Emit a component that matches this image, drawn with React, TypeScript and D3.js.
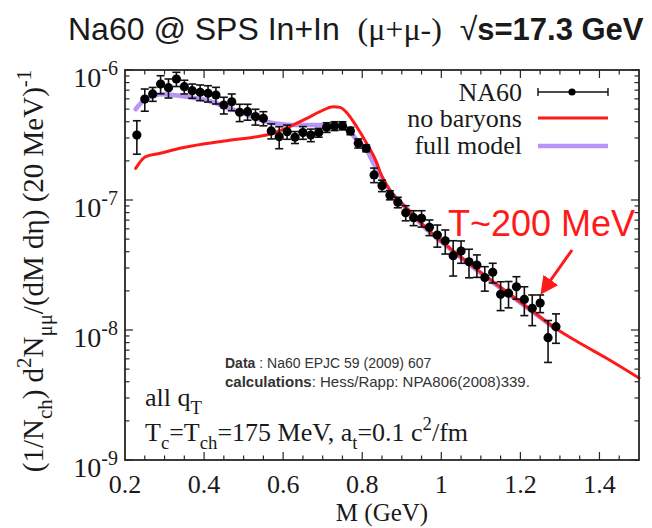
import React from 'react';
import * as d3 from 'd3';

// NA60 In+In excess dimuon spectrum: bin centres (GeV), yields and statistical errors
const na60Mass = [
  0.23, 0.25, 0.27, 0.29, 0.31, 0.33, 0.35, 0.37, 0.39, 0.41,
  0.43, 0.45, 0.47, 0.49, 0.51, 0.53, 0.55, 0.57, 0.59, 0.61,
  0.63, 0.65, 0.67, 0.69, 0.71, 0.73, 0.75, 0.77, 0.79, 0.81,
  0.83, 0.85, 0.87, 0.89, 0.91, 0.93, 0.95, 0.97, 0.99, 1.01,
  1.03, 1.05, 1.07, 1.09, 1.11, 1.13, 1.15, 1.17, 1.19, 1.21,
  1.23, 1.25, 1.27, 1.29,
];
const na60Yield = [
  3.16e-7, 5.98e-7, 6.54e-7, 7.8e-7, 7.31e-7, 8.53e-7, 7.44e-7, 6.93e-7, 6.74e-7, 6.62e-7,
  6.42e-7, 5.38e-7, 5.7e-7, 4.73e-7, 4.78e-7, 4.38e-7, 4.25e-7, 3.4e-7, 3.07e-7, 3.35e-7,
  3.04e-7, 3.3e-7, 3.16e-7, 3.3e-7, 3.62e-7, 3.71e-7, 3.73e-7, 3.4e-7, 2.73e-7, 2.5e-7,
  1.56e-7, 1.29e-7, 1.09e-7, 9.6e-8, 7.98e-8, 7.31e-8, 7.23e-8, 6.17e-8, 5.38e-8, 4.86e-8,
  3.73e-8, 4.05e-8, 3.35e-8, 3.16e-8, 2.53e-8, 2.78e-8, 1.88e-8, 1.92e-8, 2.15e-8, 1.72e-8,
  1.47e-8, 1.61e-8, 8.73e-9, 1.06e-8,
];
const na60Err = [
  9.1e-8, 1.16e-7, 8.0e-8, 1.24e-7, 1.22e-7, 1.07e-7, 9.0e-8, 8.7e-8, 9.3e-8, 9.5e-8,
  9.4e-8, 7.9e-8, 8.4e-8, 7.2e-8, 6.7e-8, 6.1e-8, 5.3e-8, 4.5e-8, 5.9e-8, 4.2e-8,
  3.2e-8, 3.7e-8, 3.5e-8, 2.6e-8, 3.1e-8, 2.9e-8, 2.7e-8, 2.2e-8, 2.2e-8, 1.5e-8,
  2.0e-8, 1.3e-8, 8.7e-9, 8.9e-9, 1.06e-8, 9.6e-9, 1.04e-8, 8.5e-9, 1.04e-8, 1.02e-8,
  1.13e-8, 7.9e-9, 8.3e-9, 6.2e-9, 5.4e-9, 4.8e-9, 4.7e-9, 4.4e-9, 4.2e-9, 4.3e-9,
  3.9e-9, 2.5e-9, 3.1e-9, 2.7e-9,
];

// Hess/Rapp calculation without baryonic effects
const noBaryonMass = [
  0.227, 0.251, 0.289, 0.339, 0.398, 0.457, 0.525, 0.558, 0.592, 0.626,
  0.66, 0.693, 0.727, 0.744, 0.761, 0.786, 0.811, 0.837, 0.845, 0.87,
  0.913, 0.963, 1.022, 1.081, 1.148, 1.216, 1.283, 1.351, 1.418, 1.5,
];
const noBaryonYield = [
  1.75e-7, 2.15e-7, 2.29e-7, 2.5e-7, 2.7e-7, 2.86e-7, 3.04e-7, 3.16e-7, 3.41e-7, 3.78e-7,
  4.25e-7, 4.78e-7, 5.22e-7, 5.16e-7, 4.69e-7, 3.66e-7, 2.73e-7, 1.92e-7, 1.65e-7, 1.19e-7,
  8.63e-8, 6.05e-8, 4.25e-8, 3.07e-8, 2.15e-8, 1.51e-8, 1.06e-8, 7.9e-9, 6.06e-9, 4.27e-9,
];

// Full model
const fullModelMass = [
  0.227, 0.248, 0.272, 0.296, 0.321, 0.356, 0.39, 0.423, 0.457, 0.491,
  0.525, 0.558, 0.592, 0.626, 0.693, 0.735, 0.752, 0.769, 0.786, 0.811,
  0.828, 0.845, 0.87, 0.913, 0.963, 1.022, 1.081, 1.148, 1.216, 1.283,
];
const fullModelYield = [
  4.99e-7, 5.88e-7, 6.34e-7, 6.5e-7, 6.42e-7, 6.23e-7, 5.98e-7, 5.65e-7, 5.16e-7, 4.73e-7,
  4.33e-7, 4.0e-7, 3.84e-7, 3.78e-7, 3.78e-7, 3.73e-7, 3.66e-7, 3.35e-7, 2.9e-7, 2.43e-7,
  1.93e-7, 1.56e-7, 1.17e-7, 8.5e-8, 5.95e-8, 4.2e-8, 3.03e-8, 2.12e-8, 1.49e-8, 1.05e-8,
];

const xTickValues = [0.2, 0.4, 0.6, 0.8, 1.0, 1.2, 1.4];
const xTickLabels = ['0.2', '0.4', '0.6', '0.8', '1', '1.2', '1.4'];
const yTickExponents = [-6, -7, -8, -9];

const W = 652;
const H = 528;
const plot = { left: 125, right: 639, top: 70, bottom: 460 };

const SERIF = "'Liberation Serif', 'Times New Roman', serif";
const SANS = "'Liberation Sans', Arial, sans-serif";
const RED = '#ff1a1a';
const PURPLE = '#b794f6';

type Seg = { t: string; sub?: boolean; sup?: boolean };

function Rich({ segs, size, ...rest }: { segs: Seg[]; size: number; [k: string]: any }) {
  let cur = 0;
  return (
    <text {...rest} fontSize={size} style={{ whiteSpace: 'pre' }}>
      {segs.map((s, i) => {
        const target = s.sub ? size * 0.32 : s.sup ? -size * 0.42 : 0;
        const dy = target - cur;
        cur = target;
        return (
          <tspan key={i} dy={dy} fontSize={s.sub || s.sup ? size * 0.72 : size}>
            {s.t}
          </tspan>
        );
      })}
    </text>
  );
}

export default function App() {
  const x = d3.scaleLinear().domain([0.2, 1.5]).range([plot.left, plot.right]);
  const y = d3.scaleLog().domain([1e-9, 1e-6]).range([plot.bottom, plot.top]);

  const line = d3
    .line<[number, number]>()
    .x((d) => x(d[0]))
    .y((d) => y(d[1]))
    .curve(d3.curveMonotoneX);

  const redPath = line(noBaryonMass.map((m, i) => [m, noBaryonYield[i]] as [number, number])) || '';
  const purplePath = line(fullModelMass.map((m, i) => [m, fullModelYield[i]] as [number, number])) || '';

  const xMinor = d3.range(0.25, 1.5, 0.05).filter((v) => Math.abs(Math.round(v * 5) - v * 5) > 1e-6);
  const yAll = y.ticks();
  const yMajor = yTickExponents.map((e) => Math.pow(10, e));
  const yMinor = yAll.filter((v) => !yMajor.some((m) => Math.abs(m - v) / m < 1e-6));

  const frame = '#262626';
  const capW = 4;

  return (
    <svg width={W} height={H} style={{ display: 'block', position: 'absolute', left: 0, top: 0 }}>
      <rect width={W} height={H} fill="#fff" />

      {/* title */}
      <text x={68} y={40} fontFamily={SANS} fontSize={32} fill="#1a1a1a" style={{ whiteSpace: 'pre' }}>
        <tspan>Na60 @ SPS In+In  </tspan>
        <tspan fontFamily={SERIF}>(μ+μ-)</tspan>
        <tspan>  √</tspan>
        <tspan fontWeight="bold" fontSize={31}>s=17.3 GeV</tspan>
      </text>

      {/* model curves */}
      <path d={purplePath} fill="none" stroke={PURPLE} strokeWidth={4.5} strokeLinecap="round" />
      <path d={redPath} fill="none" stroke={RED} strokeWidth={3} strokeLinecap="round" />

      {/* data with error bars */}
      <g stroke="#111" strokeWidth={1.6}>
        {na60Mass.map((m, i) => {
          const cx = x(m);
          const yHi = y(na60Yield[i] + na60Err[i]);
          const yLo = y(Math.max(na60Yield[i] - na60Err[i], 1e-10));
          return (
            <g key={i}>
              <line x1={cx} x2={cx} y1={yHi} y2={yLo} />
              <line x1={cx - capW} x2={cx + capW} y1={yHi} y2={yHi} />
              <line x1={cx - capW} x2={cx + capW} y1={yLo} y2={yLo} />
            </g>
          );
        })}
      </g>
      <g fill="#000">
        {na60Mass.map((m, i) => (
          <circle key={i} cx={x(m)} cy={y(na60Yield[i])} r={4.6} />
        ))}
      </g>

      {/* frame and ticks */}
      <g stroke={frame} strokeWidth={1.2}>
        {xTickValues.slice(1).map((v) => (
          <g key={'xm' + v}>
            <line x1={x(v)} x2={x(v)} y1={plot.bottom} y2={plot.bottom - 8} />
            <line x1={x(v)} x2={x(v)} y1={plot.top} y2={plot.top + 8} />
          </g>
        ))}
        {xMinor.map((v) => (
          <g key={'xn' + v}>
            <line x1={x(v)} x2={x(v)} y1={plot.bottom} y2={plot.bottom - 4.5} />
            <line x1={x(v)} x2={x(v)} y1={plot.top} y2={plot.top + 4.5} />
          </g>
        ))}
        {yMajor.map((v) => (
          <g key={'ym' + v}>
            <line x1={plot.left} x2={plot.left + 8} y1={y(v)} y2={y(v)} />
            <line x1={plot.right} x2={plot.right - 8} y1={y(v)} y2={y(v)} />
          </g>
        ))}
        {yMinor.map((v) => (
          <g key={'yn' + v}>
            <line x1={plot.left} x2={plot.left + 4.5} y1={y(v)} y2={y(v)} />
            <line x1={plot.right} x2={plot.right - 4.5} y1={y(v)} y2={y(v)} />
          </g>
        ))}
      </g>
      <rect
        x={plot.left}
        y={plot.top}
        width={plot.right - plot.left}
        height={plot.bottom - plot.top}
        fill="none"
        stroke={frame}
        strokeWidth={1.8}
      />

      {/* tick labels */}
      <g fontFamily={SERIF} fill="#1a1a1a">
        {xTickValues.map((v, i) => (
          <text key={'xl' + v} x={x(v)} y={493} fontSize={26} textAnchor="middle">
            {xTickLabels[i]}
          </text>
        ))}
        {yTickExponents.map((e) => (
          <text key={'yl' + e} x={118} y={y(Math.pow(10, e)) + 17} fontSize={28} textAnchor="end">
            <tspan>10</tspan>
            <tspan fontSize={20} dy={-12}>{String(e)}</tspan>
          </text>
        ))}
      </g>

      {/* axis titles */}
      <text x={(plot.left + plot.right) / 2} y={521} fontFamily={SERIF} fontSize={25} textAnchor="middle" fill="#1a1a1a">
        M (GeV)
      </text>
      <Rich
        size={29}
        fontFamily={SERIF}
        fill="#1a1a1a"
        textAnchor="middle"
        transform={`translate(43, ${(plot.top + plot.bottom) / 2 + 6}) rotate(-90)`}
        segs={[
          { t: '(1/N' },
          { t: 'ch', sub: true },
          { t: ') d' },
          { t: '2', sup: true },
          { t: 'N' },
          { t: 'μμ', sub: true },
          { t: '/(dM dη) (20 MeV)' },
          { t: '-1', sup: true },
        ]}
      />

      {/* legend */}
      <g fontFamily={SERIF} fontSize={26} fill="#1a1a1a" textAnchor="end">
        <text x={522} y={101}>NA60</text>
        <text x={522} y={127}>no baryons</text>
        <text x={522} y={154}>full model</text>
      </g>
      <g stroke="#111" strokeWidth={1.4}>
        <line x1={538} x2={608} y1={92} y2={92} />
        <line x1={538} x2={538} y1={88} y2={96} />
        <line x1={608} x2={608} y1={88} y2={96} />
      </g>
      <circle cx={572} cy={92} r={3.6} fill="#000" />
      <line x1={538} x2={608} y1={118} y2={118} stroke={RED} strokeWidth={3} />
      <line x1={538} x2={608} y1={146} y2={146} stroke={PURPLE} strokeWidth={4.5} />

      {/* annotations */}
      <text x={448} y={236} fontFamily={SANS} fontSize={36} fill={RED}>
        T~200 MeV
      </text>
      <defs>
        <marker id="arrowHead" markerWidth={6} markerHeight={6} refX={4.5} refY={3} orient="auto" markerUnits="strokeWidth">
          <path d="M0,0 L6,3 L0,6 Z" fill={RED} />
        </marker>
      </defs>
      <line x1={572} y1={250} x2={543} y2={291} stroke={RED} strokeWidth={3} markerEnd="url(#arrowHead)" />

      <g fontFamily={SANS} fill="#333">
        <text x={225} y={368} fontSize={14} style={{ whiteSpace: 'pre' }}>
          <tspan fontWeight="bold">Data</tspan>
          <tspan> : Na60 EPJC 59 (2009) 607</tspan>
        </text>
        <text x={225} y={387} fontSize={15}>
          <tspan fontWeight="bold">calculations</tspan>
          <tspan>: Hess/Rapp: NPA806(2008)339.</tspan>
        </text>
      </g>

      <Rich
        size={26}
        x={145}
        y={406}
        fontFamily={SERIF}
        fill="#1a1a1a"
        segs={[{ t: 'all q' }, { t: 'T', sub: true }]}
      />
      <Rich
        size={26}
        x={145}
        y={441}
        fontFamily={SERIF}
        fill="#1a1a1a"
        segs={[
          { t: 'T' },
          { t: 'c', sub: true },
          { t: '=T' },
          { t: 'ch', sub: true },
          { t: '=175 MeV, a' },
          { t: 't', sub: true },
          { t: '=0.1 c' },
          { t: '2', sup: true },
          { t: '/fm' },
        ]}
      />
    </svg>
  );
}
